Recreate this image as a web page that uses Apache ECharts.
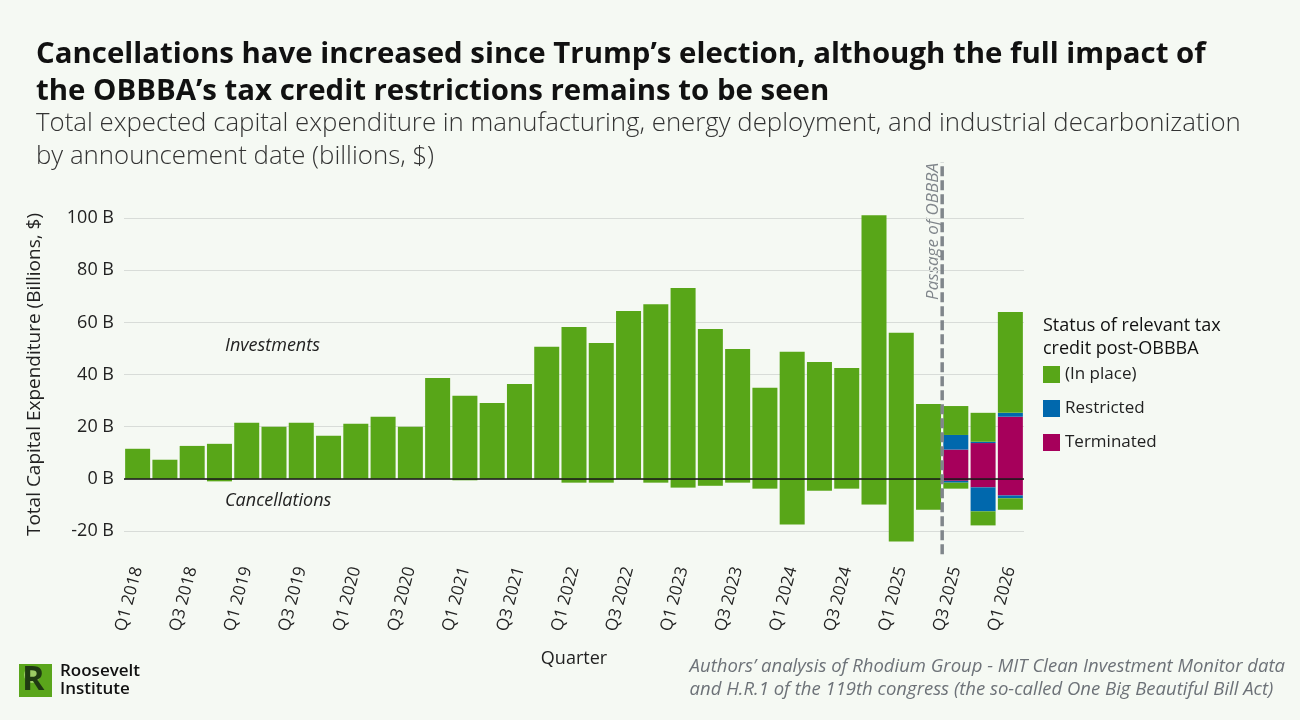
<!DOCTYPE html>
<html>
<head>
<meta charset="utf-8">
<script src="https://cdn.jsdelivr.net/npm/echarts@6/dist/echarts.min.js"></script>
<style>
  html, body { margin: 0; padding: 0; background: #f5f9f3; }
  #main { width: 1300px; height: 720px; }
</style>
</head>
<body>
<div id="main"></div>
<script>
// quarters Q1 2018 .. Q1 2026
var quarters = []
for (var yr = 2018; yr <= 2026; yr++) {
  for (var q = 1; q <= 4; q++) {
    if (yr === 2026 && q > 1) break
    quarters.push('Q' + q + ' ' + yr)
  }
}

// billions of $, positive = investments, negative = cancellations
var inPlacePos = [11.5, 7.3, 12.6, 13.4, 21.5, 20.0, 21.5, 16.5, 21.1, 23.8, 20.0, 38.7, 31.8, 29.1, 36.4, 50.6,
  58.2, 52.1, 64.4, 67.0, 73.2, 57.5, 49.8, 34.9, 48.7, 44.8, 42.5, 101.1, 56.0, 28.7, 11.1, 11.1, 38.7]
var inPlaceNeg = [0, 0, 0, -1.0, 0, 0, 0, 0, 0, 0, 0, 0, -0.6, 0, 0, 0,
  -1.5, -1.5, 0, -1.5, -3.4, -2.7, -1.5, -3.8, -17.6, -4.6, -3.8, -9.9, -24.1, -11.9, -2.3, -5.4, -4.4]
var restrictedPos = [0, 0, 0, 0, 0, 0, 0, 0, 0, 0, 0, 0, 0, 0, 0, 0,
  0, 0, 0, 0, 0, 0, 0, 0, 0, 0, 0, 0, 0, 0, 5.6, 0.5, 1.5]
var restrictedNeg = [0, 0, 0, 0, 0, 0, 0, 0, 0, 0, 0, 0, 0, 0, 0, 0,
  0, 0, 0, 0, 0, 0, 0, 0, 0, 0, 0, 0, 0, 0, -0.7, -9.2, -1.1]
var terminatedPos = [0, 0, 0, 0, 0, 0, 0, 0, 0, 0, 0, 0, 0, 0, 0, 0,
  0, 0, 0, 0, 0, 0, 0, 0, 0, 0, 0, 0, 0, 0, 11.2, 13.7, 23.8]
var terminatedNeg = [0, 0, 0, 0, 0, 0, 0, 0, 0, 0, 0, 0, 0, 0, 0, 0,
  0, 0, 0, 0, 0, 0, 0, 0, 0, 0, 0, 0, 0, 0, -0.8, -3.3, -6.4]

// passage of OBBBA, between Q2 2025 and Q3 2025 (index 29.5)
var obbbaLine = [[29.5, -29], [29.5, 121.5]]

var statusNames = ['(In place)', 'Restricted', 'Terminated']
var colors = { '(In place)': '#58a618', 'Restricted': '#0068ad', 'Terminated': '#a6005b' }
var font = '"Open Sans", Lato, sans-serif'

function barSeries (name, data) {
  return {
    name: name,
    type: 'bar',
    stack: 'total',
    barWidth: 25,
    data: data,
    itemStyle: { color: colors[name] },
    emphasis: { disabled: true }
  }
}

var chart = echarts.init(document.getElementById('main'))

var series = [
  barSeries('Terminated', terminatedPos),
  barSeries('Terminated', terminatedNeg),
  barSeries('Restricted', restrictedPos),
  barSeries('Restricted', restrictedNeg),
  barSeries('(In place)', inPlacePos),
  barSeries('(In place)', inPlaceNeg)
]
// zero line
series[0].markLine = {
  silent: true,
  symbol: ['none', 'none'],
  label: { show: false },
  lineStyle: { color: '#111', width: 1.5, type: 'solid' },
  data: [{ yAxis: 0 }]
}
series.push({
  name: 'OBBBA',
  type: 'line',
  xAxisIndex: 1,
  data: obbbaLine,
  symbol: 'none',
  clip: false,
  silent: true,
  lineStyle: { color: '#80868b', width: 3.5, type: [10, 4] },
  z: 5
})

var option = {
  backgroundColor: '#f5f9f3',
  animation: false,
  textStyle: { fontFamily: font },
  title: [
    {
      text: 'Cancellations have increased since Trump\u2019s election, although the full impact of\nthe OBBBA\u2019s tax credit restrictions remains to be seen',
      left: 36,
      top: 36,
      padding: 0,
      textStyle: { fontSize: 29.4, fontWeight: 'bold', color: '#111', lineHeight: 37, fontFamily: font }
    },
    {
      text: 'Total expected capital expenditure in manufacturing, energy deployment, and industrial decarbonization\nby announcement date (billions, $)',
      left: 36,
      top: 107,
      padding: 0,
      textStyle: { fontSize: 25.8, fontWeight: 300, color: '#333', lineHeight: 33, fontFamily: font }
    },
    {
      text: 'Status of relevant tax\ncredit post-OBBBA',
      left: 1043,
      top: 314,
      padding: 0,
      textStyle: { fontSize: 18, fontWeight: 'normal', color: '#111', lineHeight: 23, fontFamily: font }
    }
  ],
  legend: {
    data: statusNames,
    orient: 'vertical',
    left: 1043,
    top: 366,
    padding: 0,
    icon: 'rect',
    itemWidth: 17,
    itemHeight: 17,
    itemGap: 17,
    textStyle: { fontSize: 17, color: '#222', fontFamily: font }
  },
  grid: { left: 124, top: 166, width: 900, height: 417 },
  xAxis: [
    {
      type: 'category',
      data: quarters,
      offset: -18,
      axisLine: { show: false },
      axisTick: { show: false },
      axisLabel: { interval: 1, rotate: 75, fontSize: 17, color: '#222', margin: 2, fontFamily: font },
      name: 'Quarter',
      nameLocation: 'middle',
      nameGap: 85,
      nameTextStyle: { fontSize: 18, color: '#222', fontFamily: font }
    },
    { type: 'value', min: -0.5, max: 32.5, show: false }
  ],
  yAxis: {
    type: 'value',
    min: -40,
    max: 120,
    interval: 20,
    axisLine: { show: false },
    axisTick: { show: false },
    splitLine: { show: true, showMinLine: false, showMaxLine: false, lineStyle: { color: '#d8dcd8', width: 1 } },
    axisLabel: {
      fontSize: 18,
      color: '#222',
      margin: 10,
      fontFamily: font,
      formatter: function (v) { return (v < -20 || v > 100) ? '' : v + ' B' }
    },
    name: 'Total Capital Expenditure (Billions, $)',
    nameLocation: 'middle',
    nameGap: 80,
    nameTextStyle: { fontSize: 19, color: '#222', fontFamily: font }
  },
  graphic: [
    { type: 'text', left: 225, top: 337, style: { text: 'Investments', font: 'italic 18px ' + font, fill: '#222' } },
    { type: 'text', left: 225, top: 492, style: { text: 'Cancellations', font: 'italic 18px ' + font, fill: '#222' } },
    {
      type: 'text',
      x: 933,
      y: 163,
      rotation: Math.PI / 2,
      style: { text: 'Passage of OBBBA', font: 'italic 17px ' + font, fill: '#80868b', align: 'right', verticalAlign: 'middle' }
    },
    {
      type: 'text',
      right: 15,
      top: 655,
      style: {
        text: 'Authors\u2019 analysis of Rhodium Group - MIT Clean Investment Monitor data\nand H.R.1 of the 119th congress (the so-called One Big Beautiful Bill Act)',
        font: 'italic 18.5px ' + font,
        fill: '#6d7278',
        align: 'right',
        lineHeight: 23
      }
    },
    // logo
    { type: 'rect', shape: { x: 19, y: 664, width: 33, height: 33 }, style: { fill: '#5aa61b' } },
    { type: 'circle', shape: { cx: 32, cy: 675, r: 8 }, style: { fill: '#9ccc65' } },
    { type: 'text', x: 22, y: 663, style: { text: 'R', font: 'bold 34px ' + font, fill: '#1f3a12' } },
    { type: 'text', x: 60, y: 662, style: { text: 'Roosevelt\nInstitute', font: '600 17px ' + font, fill: '#111', lineHeight: 18 } }
  ],
  series: series
}

chart.setOption(option)
</script>
</body>
</html>
